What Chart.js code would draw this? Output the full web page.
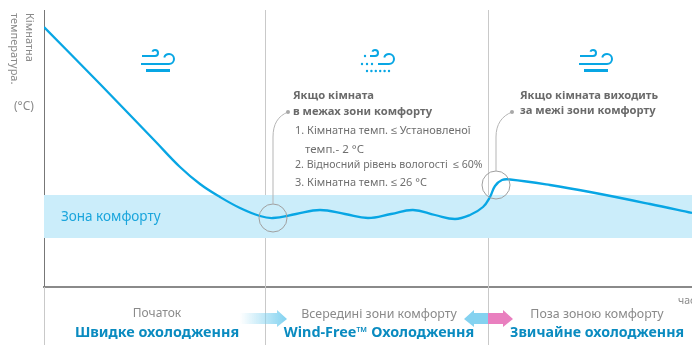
<!DOCTYPE html>
<html lang="uk">
<head>
<meta charset="utf-8">
<title>Кімнатна температура</title>
<script src="https://cdn.jsdelivr.net/npm/chart.js@4"></script>
<style>
html, body { margin: 0; padding: 0; background: #fff; overflow: hidden; }
#wrap { width: 692px; height: 345px; }
</style>
</head>
<body>
<div id="wrap"><canvas id="chart" width="692" height="345"></canvas></div>
<script>
// time axis is in relative units (0-648), temperature in relative units (0-277)
const curveTime = [0, 56, 111, 136, 156, 176, 196, 216, 229, 252, 276, 301, 324, 347, 369, 391, 411, 426, 439, 446, 451, 458, 466, 506, 546, 606, 648];
const curveTemp = [260, 203, 146, 120, 103, 90, 79, 71, 69, 73, 77, 73, 69, 73, 77, 72, 68, 72, 80, 90, 101, 107, 107.5, 102, 95, 83, 74];
const zoneLow = 49;
const zoneHigh = 92;
const phaseBounds = [221, 444];
const circleTime = [229, 452];
const circleTemp = [69, 102];

const BLUE = "#08A6E4";
const GREY = "#6f6f6f";
const FONT = '"Noto Sans", sans-serif';

function txt(ctx, str, x, y, size, color, weight, align) {
    ctx.font = `${weight || 400} ${size}px ${FONT}`;
    ctx.fillStyle = color;
    ctx.textAlign = align || "left";
    ctx.textBaseline = "middle";
    ctx.fillText(str, x, y);
}

function windIcon(ctx, x, y, dotted) {
    ctx.save();
    ctx.strokeStyle = BLUE;
    ctx.fillStyle = BLUE;
    ctx.lineWidth = 2;
    ctx.beginPath();
    ctx.moveTo(x + (dotted ? 9 : 1), y + 6);
    ctx.lineTo(x + 14, y + 6);
    ctx.arc(x + 14, y + 3, 3, Math.PI / 2, -Math.PI * 0.85, true);
    ctx.moveTo(x + (dotted ? 17 : 0), y + 14);
    ctx.lineTo(x + 28, y + 14);
    ctx.arc(x + 28, y + 9, 5, Math.PI / 2, -Math.PI * 0.9, true);
    ctx.stroke();
    if (dotted) {
        [[4, 6], [1, 14], [6, 14], [11, 14], [6, 21], [10.4, 21], [14.8, 21], [19.2, 21], [23.6, 21], [28, 21]].forEach(p => {
            ctx.beginPath();
            ctx.arc(x + p[0], y + p[1], 1.2, 0, Math.PI * 2);
            ctx.fill();
        });
    } else {
        ctx.fillRect(x + 5, y + 19, 24, 3);
    }
    ctx.restore();
}

const paperPlugin = {
    id: "paper",
    beforeDatasetsDraw(chart) {
        const { ctx, scales: { x } } = chart;
        ctx.save();
        ctx.strokeStyle = "#c9c9c9";
        ctx.lineWidth = 1;
        phaseBounds.forEach(t => {
            const px = Math.round(x.getPixelForValue(t)) + 0.5;
            ctx.beginPath();
            ctx.moveTo(px, 10);
            ctx.lineTo(px, 345);
            ctx.stroke();
        });
        ctx.beginPath();
        ctx.moveTo(44.5, 287);
        ctx.lineTo(44.5, 345);
        ctx.stroke();
        ctx.restore();
    },
    afterDraw(chart) {
        const { ctx, scales: { x } } = chart;
        ctx.save();

        // axis title
        ctx.save();
        ctx.translate(29, 13);
        ctx.rotate(Math.PI / 2);
        txt(ctx, "Кімнатна", 0, 0, 11, "#8a8a8a");
        ctx.restore();
        ctx.save();
        ctx.translate(14, 13);
        ctx.rotate(Math.PI / 2);
        txt(ctx, "температура.", 0, 0, 11, "#8a8a8a");
        ctx.restore();
        txt(ctx, "(°C)", 14, 107, 12, "#8a8a8a");
        txt(ctx, "Зона комфорту", 61, 217, 13.5, "#1AA5DC");

        // leaders
        ctx.strokeStyle = "#b5b5b5";
        ctx.fillStyle = "#a8a8a8";
        ctx.lineWidth = 1;
        const c1x = x.getPixelForValue(circleTime[0]);
        const c2x = x.getPixelForValue(circleTime[1]);
        ctx.beginPath();
        ctx.moveTo(c1x, 204);
        ctx.lineTo(c1x, 137);
        ctx.bezierCurveTo(c1x, 124, 278, 116, 288, 112);
        ctx.moveTo(c2x, 171);
        ctx.lineTo(c2x, 137);
        ctx.bezierCurveTo(c2x, 124, 502, 116, 512, 112);
        ctx.stroke();
        [[288, 112], [512, 112]].forEach(p => {
            ctx.beginPath();
            ctx.arc(p[0], p[1], 2, 0, Math.PI * 2);
            ctx.fill();
        });

        // notes
        txt(ctx, "Якщо кімната", 293, 96, 11.2, "#6a6a6a", 700);
        txt(ctx, "в межах зони комфорту", 293, 112, 11.2, "#6a6a6a", 700);
        txt(ctx, "1. Кімнатна темп. ≤ Установленої", 295, 131, 11, GREY);
        txt(ctx, "темп.- 2 °C", 305, 150, 11.5, GREY);
        txt(ctx, "2. Відносний рівень вологості  ≤ 60%", 295, 165, 10.6, GREY);
        txt(ctx, "3. Кімнатна темп. ≤ 26 °C", 295, 183, 11, GREY);
        txt(ctx, "Якщо кімната виходить", 520, 96, 11.2, "#6a6a6a", 700);
        txt(ctx, "за межі зони комфорту", 520, 111, 11.2, "#6a6a6a", 700);

        // icons
        windIcon(ctx, 141, 50, false);
        windIcon(ctx, 361, 50, true);
        windIcon(ctx, 579, 50, false);

        // bottom captions
        txt(ctx, "час", 678, 301, 10.5, "#8a8a8a");
        txt(ctx, "Початок", 157, 314, 12, "#8a8a8a", 400, "center");
        txt(ctx, "Всередині зони комфорту", 379, 314, 12.4, "#8a8a8a", 400, "center");
        txt(ctx, "Поза зоною комфорту", 597, 314, 12.4, "#8a8a8a", 400, "center");
        txt(ctx, "Швидке охолодження", 157, 333, 14.4, "#0A8BC0", 700, "center");
        txt(ctx, "Wind-Free™ Охолодження", 379, 333, 14.4, "#0A8BC0", 700, "center");
        txt(ctx, "Звичайне охолодження", 597, 333, 14.2, "#0A8BC0", 700, "center");

        // arrows
        const grad = ctx.createLinearGradient(240, 0, 287, 0);
        grad.addColorStop(0, "rgba(130,210,240,0)");
        grad.addColorStop(1, "rgba(130,210,240,1)");
        ctx.fillStyle = grad;
        ctx.beginPath();
        ctx.moveTo(240, 313); ctx.lineTo(277, 313); ctx.lineTo(277, 310); ctx.lineTo(287, 319);
        ctx.lineTo(277, 327); ctx.lineTo(277, 324); ctx.lineTo(240, 324);
        ctx.closePath();
        ctx.fill();
        ctx.fillStyle = "#84D2F0";
        ctx.beginPath();
        ctx.moveTo(488, 313); ctx.lineTo(474, 313); ctx.lineTo(474, 310); ctx.lineTo(464, 319);
        ctx.lineTo(474, 327); ctx.lineTo(474, 324); ctx.lineTo(488, 324);
        ctx.closePath();
        ctx.fill();
        ctx.fillStyle = "#E97FBF";
        ctx.beginPath();
        ctx.moveTo(488, 313); ctx.lineTo(503, 313); ctx.lineTo(503, 310); ctx.lineTo(513, 319);
        ctx.lineTo(503, 327); ctx.lineTo(503, 324); ctx.lineTo(488, 324);
        ctx.closePath();
        ctx.fill();
        ctx.restore();
    }
};

new Chart(document.getElementById("chart"), {
    type: "scatter",
    data: {
        datasets: [
            {
                label: "Кімнатна температура",
                data: curveTime.map((t, i) => ({ x: t, y: curveTemp[i] })),
                showLine: true,
                borderColor: BLUE,
                borderWidth: 2.3,
                pointRadius: 0,
                tension: 0.4,
                order: 1
            },
            {
                label: "Точки",
                data: circleTime.map((t, i) => ({ x: t, y: circleTemp[i] })),
                pointRadius: 14,
                pointBackgroundColor: "transparent",
                pointBorderColor: "#a0a0a0",
                pointBorderWidth: 1,
                order: 0
            },
            {
                label: "Зона комфорту",
                data: [{ x: 0, y: zoneHigh }, { x: 648, y: zoneHigh }],
                showLine: true,
                borderWidth: 0,
                pointRadius: 0,
                backgroundColor: "#CBEDFA",
                fill: { target: { value: zoneLow } },
                order: 2
            }
        ]
    },
    options: {
        responsive: false,
        animation: false,
        layout: { autoPadding: false, padding: { left: 44, right: 0, top: 10, bottom: 58 } },
        plugins: { legend: { display: false }, tooltip: { enabled: false } },
        scales: {
            x: {
                type: "linear", min: 0, max: 648,
                grid: { display: false, drawTicks: false },
                border: { color: "#8a8a8a", width: 2 },
                ticks: { display: false }
            },
            y: {
                min: 0, max: 277,
                grid: { display: false, drawTicks: false },
                border: { color: "#777", width: 1 },
                ticks: { display: false }
            }
        }
    },
    plugins: [paperPlugin]
});
</script>
</body>
</html>
